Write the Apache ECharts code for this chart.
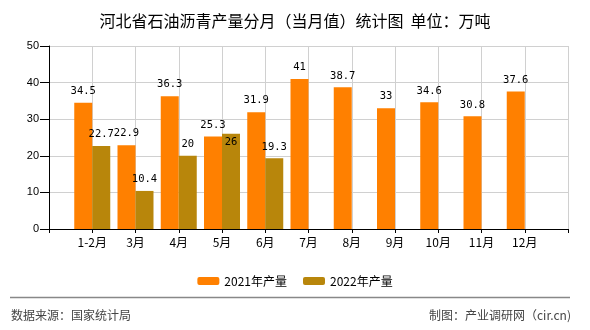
<!DOCTYPE html>
<html>
<head>
<meta charset="utf-8">
<script src="https://cdn.jsdelivr.net/npm/echarts@6/dist/echarts.min.js"></script>
<style>
html,body{margin:0;padding:0;background:#fff;}
#c{width:590px;height:330px;}
</style>
</head>
<body>
<div id="c"></div>
<script>
var categories = ['1-2月','3月','4月','5月','6月','7月','8月','9月','10月','11月','12月'];
var values2021 = [34.5, 22.9, 36.3, 25.3, 31.9, 41, 38.7, 33, 34.6, 30.8, 37.6];
var values2022 = [22.7, 10.4, 20, 26, 19.3];
var yTicks = [0, 10, 20, 30, 40, 50];
var seriesNames = ['2021年产量', '2022年产量'];

var axisCats = [''].concat(categories).concat(['']);
function pad(arr){
  var out = [null];
  for (var i = 0; i < categories.length; i++) out.push(i < arr.length ? arr[i] : null);
  out.push(null);
  return out;
}
var d2021 = pad(values2021);
var d2022 = pad(values2022).map(function(v, i){
  if (v === 26) return {value: v, label: {position: 'insideTop', distance: 3}};
  return v;
});

var chart = echarts.init(document.getElementById('c'), null, {renderer: 'canvas'});
var mono = '"DejaVu Sans Mono", "Liberation Mono", monospace';
var cjk = '"Noto Sans CJK SC", sans-serif';
var sans = '"Liberation Sans", Arial, sans-serif';
chart.setOption({
  animation: false,
  backgroundColor: '#fff',
  title: {
    text: '河北省石油沥青产量分月（当月值）统计图  单位：万吨',
    left: 'center', top: 8,
    textStyle: {fontFamily: cjk, fontSize: 16, fontWeight: 'normal', color: '#000'}
  },
  legend: {
    top: 270, left: 'center',
    itemWidth: 22, itemHeight: 8, itemGap: 16,
    textStyle: {fontFamily: cjk, fontSize: 12, color: '#000'},
    data: seriesNames
  },
  grid: {left: 49, right: 22, top: 46, bottom: 101, containLabel: false},
  xAxis: {
    type: 'category',
    data: axisCats,
    boundaryGap: false,
    axisLine: {lineStyle: {color: '#000', width: 1}},
    axisTick: {show: true, length: 4, interval: 0, lineStyle: {color: '#000'}},
    axisLabel: {interval: 0, margin: 7, fontFamily: cjk, fontSize: 12, color: '#000'},
    splitLine: {show: true, interval: 0, lineStyle: {color: '#d0d0d0'}}
  },
  yAxis: {
    type: 'value', min: 0, max: 50, interval: 10,
    axisLine: {show: true, lineStyle: {color: '#000'}},
    axisTick: {show: true, length: 9, lineStyle: {color: '#000'}},
    axisLabel: {margin: 10, fontFamily: sans, fontSize: 11, color: '#000'},
    splitLine: {show: true, lineStyle: {color: '#d0d0d0'}}
  },
  series: [
    {
      name: seriesNames[0], type: 'bar', data: d2021,
      barWidth: 18, barGap: '0%',
      itemStyle: {color: '#FF8000'},
      label: {show: true, position: 'top', distance: 6, fontFamily: mono, fontSize: 10.5, color: '#000'}
    },
    {
      name: seriesNames[1], type: 'bar', data: d2022,
      barWidth: 18, barGap: '0%',
      itemStyle: {color: '#B8860B'},
      label: {show: true, position: 'top', distance: 6, fontFamily: mono, fontSize: 10.5, color: '#000'}
    }
  ],
  graphic: [
    {type: 'line', shape: {x1: 10, y1: 297.5, x2: 570, y2: 297.5}, style: {stroke: '#888', lineWidth: 1.5}},
    {type: 'text', left: 11, top: 309, style: {text: '数据来源：国家统计局', fontFamily: cjk, fontSize: 12, fill: '#444'}},
    {type: 'text', right: 19, top: 309, style: {text: '制图：产业调研网（cir.cn)', fontFamily: cjk, fontSize: 12, fill: '#444'}}
  ]
});
</script>
</body>
</html>
